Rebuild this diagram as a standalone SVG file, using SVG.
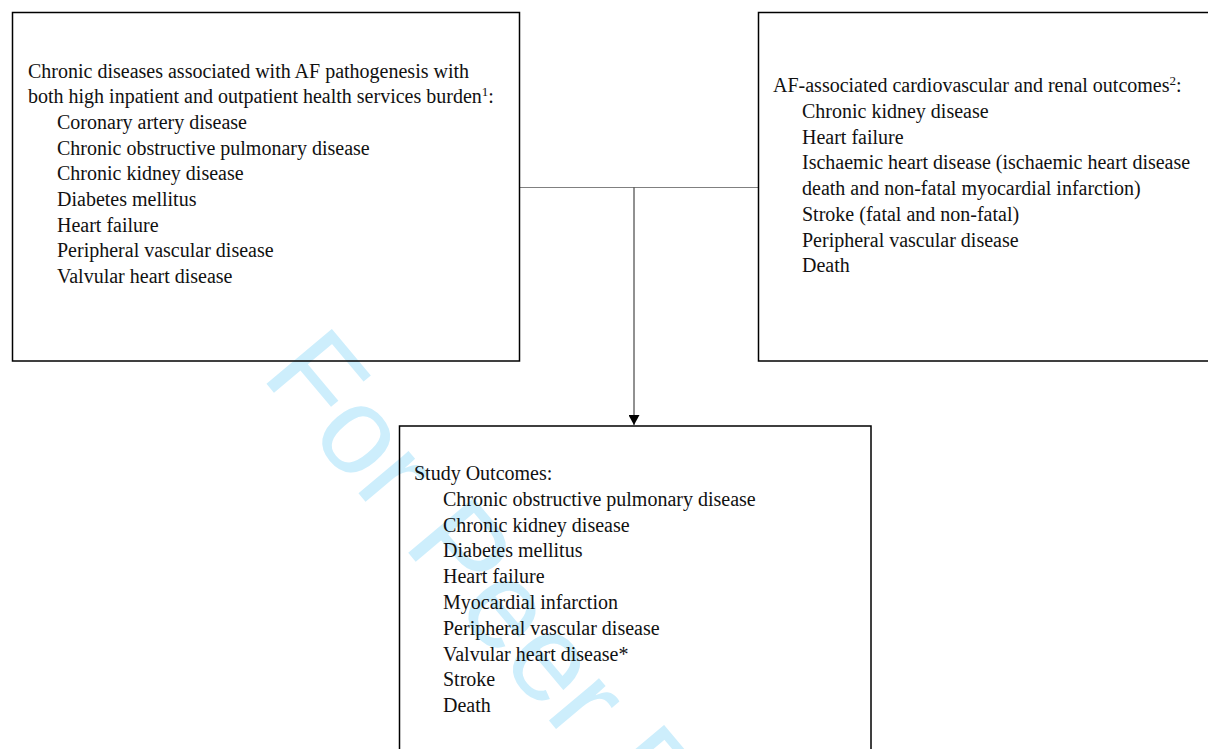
<svg xmlns="http://www.w3.org/2000/svg" width="1208" height="749" viewBox="0 0 1208 749">
  <style>
    .box { fill: none; stroke: #000; stroke-width: 1.5; }
    .t { font-family: "Liberation Serif", "Times New Roman", serif; font-size: 20px; fill: #111; }
    .sup { font-size: 13px; }
    .wm { font-family: "Liberation Sans", Arial, sans-serif; font-size: 124px; fill: #cdeefc; }
  </style>
  <defs>
    <marker id="arrow" markerWidth="11" markerHeight="11" refX="10" refY="5.5" orient="auto" markerUnits="userSpaceOnUse">
      <path d="M0,0 L10,5.5 L0,11 Z" fill="#000"/>
    </marker>
  </defs>
  <rect width="1208" height="749" fill="#fff"/>

  <g id="watermark">
    <text class="wm" transform="translate(260,376) rotate(50)">For Peer Review</text>
  </g>

  <g id="connectors">
    <line x1="519.5" y1="187.5" x2="758.5" y2="187.5" stroke="#808080" stroke-width="1.2"/>
    <line x1="634" y1="187.5" x2="634" y2="425" stroke="#222" stroke-width="1" marker-end="url(#arrow)"/>
  </g>

  <g id="node-chronic">
    <rect class="box" x="12.5" y="12.5" width="507" height="348.5"/>
    <text class="t" x="28" y="77.5">Chronic diseases associated with AF pathogenesis with</text>
    <text class="t" x="28" y="103.2">both high inpatient and outpatient health services burden<tspan class="sup" dy="-7">1</tspan><tspan dy="7">:</tspan></text>
    <text class="t" x="57" y="128.9">Coronary artery disease</text>
    <text class="t" x="57" y="154.6">Chronic obstructive pulmonary disease</text>
    <text class="t" x="57" y="180.3">Chronic kidney disease</text>
    <text class="t" x="57" y="206">Diabetes mellitus</text>
    <text class="t" x="57" y="231.7">Heart failure</text>
    <text class="t" x="57" y="257.4">Peripheral vascular disease</text>
    <text class="t" x="57" y="283.1">Valvular heart disease</text>
  </g>

  <g id="node-af-outcomes">
    <rect class="box" x="758.5" y="12.5" width="470" height="348.5"/>
    <text class="t" x="773" y="92.3">AF-associated cardiovascular and renal outcomes<tspan class="sup" dy="-7">2</tspan><tspan dy="7">:</tspan></text>
    <text class="t" x="802" y="118">Chronic kidney disease</text>
    <text class="t" x="802" y="143.7">Heart failure</text>
    <text class="t" x="802" y="169.4">Ischaemic heart disease (ischaemic heart disease</text>
    <text class="t" x="802" y="195.1">death and non-fatal myocardial infarction)</text>
    <text class="t" x="802" y="220.8">Stroke (fatal and non-fatal)</text>
    <text class="t" x="802" y="246.5">Peripheral vascular disease</text>
    <text class="t" x="802" y="272.2">Death</text>
  </g>

  <g id="node-study-outcomes">
    <rect class="box" x="399.5" y="426" width="471.5" height="340"/>
    <text class="t" x="414" y="480">Study Outcomes:</text>
    <text class="t" x="443" y="505.8">Chronic obstructive pulmonary disease</text>
    <text class="t" x="443" y="531.6">Chronic kidney disease</text>
    <text class="t" x="443" y="557.4">Diabetes mellitus</text>
    <text class="t" x="443" y="583.2">Heart failure</text>
    <text class="t" x="443" y="609">Myocardial infarction</text>
    <text class="t" x="443" y="634.8">Peripheral vascular disease</text>
    <text class="t" x="443" y="660.6">Valvular heart disease*</text>
    <text class="t" x="443" y="686.4">Stroke</text>
    <text class="t" x="443" y="712.2">Death</text>
  </g>
</svg>
